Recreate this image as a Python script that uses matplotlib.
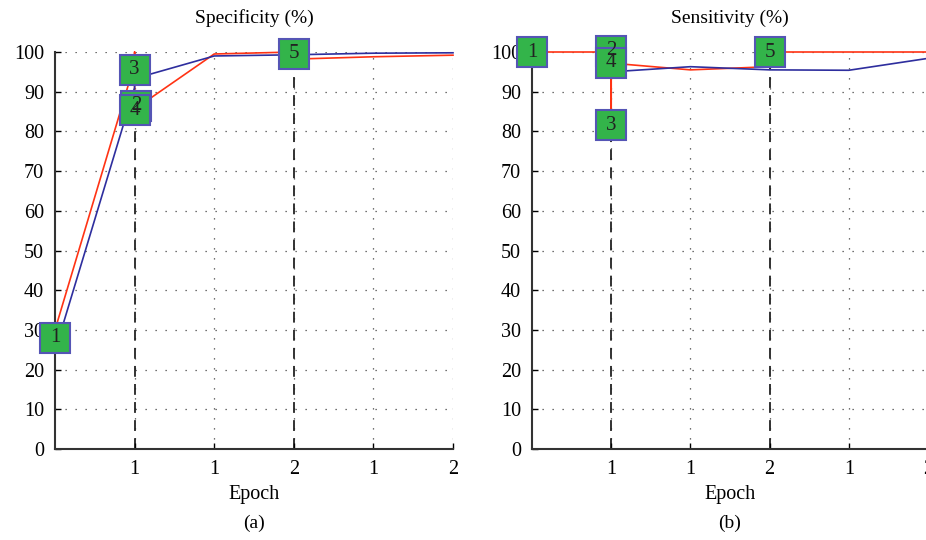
import matplotlib
matplotlib.use("Agg")
import matplotlib.pyplot as plt

plt.rcParams['font.family'] = ['Liberation Serif', 'DejaVu Serif']

# x positions on the epoch axis and their (odd) labels
tick_pos = [1, 2, 3, 4, 5]
tick_labels = ['1', '1', '2', '1', '2']
y_ticks = list(range(0, 101, 10))

# (a) specificity
spec_red_x = [0, 1, 1, 1, 2, 3, 3, 4, 5]
spec_red_y = [30, 97, 100, 85.6, 99.5, 100, 98.2, 98.8, 99.2]
spec_blue_x = [0.08, 1, 1, 2, 3, 4, 5]
spec_blue_y = [30, 91, 93.3, 99.0, 99.3, 99.7, 99.8]
spec_box_x = [0, 1.02, 1, 1, 3]
spec_box_y = [28, 86.5, 95.5, 85.3, 99.5]
spec_vlines = [(1, 85), (3, 99)]

# (b) sensitivity
sens_red_x = [0, 1, 1, 1, 2, 3, 3, 4, 5]
sens_red_y = [100, 100, 82, 97.2, 95.5, 96.3, 100, 100, 100]
sens_blue_x = [1, 2, 3, 4, 5]
sens_blue_y = [95.0, 96.3, 95.5, 95.4, 98.4]
sens_box_x = [0, 1, 1, 1, 3]
sens_box_y = [100, 100.3, 81.6, 97.3, 100]
sens_vlines = [(1, 96), (3, 96)]

box_labels = ['1', '2', '3', '4', '5']

RED = '#ff3314'
BLUE = '#2e2e9e'
GREEN = '#33b44a'
EDGE = '#5555b5'

fig = plt.figure(figsize=(9.26, 5.4), dpi=100)
ax1 = fig.add_axes([0.0594, 0.1685, 0.4298, 0.7352])
ax2 = fig.add_axes([0.5745, 0.1685, 0.4277, 0.7352])


def draw(ax, title, rx, ry, bx, by, box_x, box_y, vlines):
    ax.set_xlim(0, 5)
    ax.set_ylim(0, 100)
    for x in tick_pos:
        ax.axvline(x, color='#444444', lw=0.9, ls=(0, (1, 7)), zorder=0)
    for y in y_ticks[1:]:
        ax.axhline(y, color='#444444', lw=0.9, ls=(0, (1, 7)), zorder=0)
    for x, top in vlines:
        ax.plot([x, x], [0, top], color='#222222', lw=1.3, ls=(0, (6, 4)), zorder=1)
    ax.plot(rx, ry, color=RED, lw=1.2, zorder=2, clip_on=False)
    ax.plot(bx, by, color=BLUE, lw=1.2, zorder=2, clip_on=False)
    ax.plot(box_x, box_y, ls='none', marker='s', ms=21, mfc=GREEN, mec=EDGE,
            mew=1.5, zorder=3, clip_on=False)
    for x, y, t in zip(box_x, box_y, box_labels):
        ax.text(x, y, t, ha='center', va='center', fontsize=15, color='#222222',
                zorder=4, clip_on=False)

    ax.set_xticks(tick_pos)
    ax.set_xticklabels(tick_labels)
    ax.set_yticks(y_ticks)
    ax.tick_params(direction='in', length=4, width=1, labelsize=14.5, pad=8)
    for s in ['top', 'right']:
        ax.spines[s].set_visible(False)
    for s in ['left', 'bottom']:
        ax.spines[s].set_linewidth(1.5)
        ax.spines[s].set_color('#333333')
    ax.set_title(title, fontsize=14, pad=21)
    ax.set_xlabel('Epoch', fontsize=14.5, labelpad=4)


draw(ax1, 'Specificity (%)', spec_red_x, spec_red_y, spec_blue_x, spec_blue_y,
     spec_box_x, spec_box_y, spec_vlines)
draw(ax2, 'Sensitivity (%)', sens_red_x, sens_red_y, sens_blue_x, sens_blue_y,
     sens_box_x, sens_box_y, sens_vlines)

fig.text(254 / 926, 1 - 523 / 540, '(a)', ha='center', va='center', fontsize=14)
fig.text(730 / 926, 1 - 523 / 540, '(b)', ha='center', va='center', fontsize=14)

fig.savefig('out.png', dpi=100)
